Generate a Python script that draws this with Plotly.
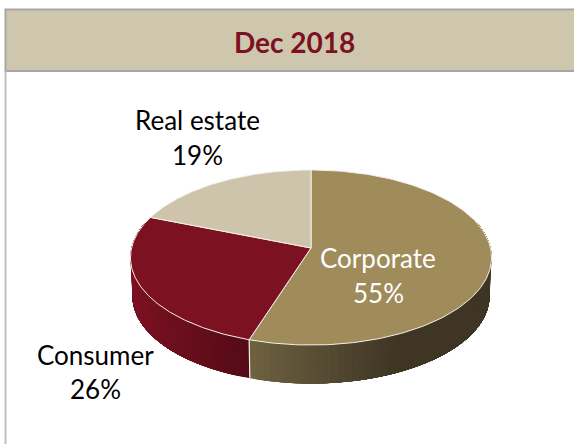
import numpy as np
import plotly.graph_objects as go

title = "Dec 2018"
categories = ["Corporate", "Consumer", "Real estate"]
values = [55, 26, 19]
top_colors = ["#A08C5B", "#7C1122", "#CEC4AB"]
# side shading at the left and right end of each visible wall
side_left = {"Corporate": (112, 99, 66), "Consumer": (124, 17, 34)}
side_right = {"Corporate": (62, 53, 36), "Consumer": (84, 11, 22)}
side_span = {"Corporate": (250, 400), "Consumer": (131, 250)}
label_xy = {"Corporate": (378, 258, 293), "Consumer": (95, 355, 389), "Real estate": (197, 120, 155)}
label_color = {"Corporate": "white", "Consumer": "black", "Real estate": "black"}

W, H = 574, 444
CX, CY = 311, 248
RX, RY, K = 179.5, 86.5, 0.1086
DEPTH = 38.5
FONT = "Lato"


def project(theta, rx=RX, ry=RY, dy=0.0):
    w = 1 + K * np.cos(theta)
    return CX + rx * np.sin(theta) / w, CY + dy - ry * np.cos(theta) / w


fig = go.Figure()
fractions = np.cumsum([0] + values) / sum(values) * 2 * np.pi

# side wall: shaded bands painted over one another, each reaching to the wall's far end
for i, name in enumerate(categories):
    if name not in side_left:
        continue
    a0, a1 = max(fractions[i], np.radians(70)), min(fractions[i + 1], np.radians(300))
    x0, x1 = side_span[name]
    starts = np.linspace(a0, a1, 61)[:-1]
    if name == "Corporate":
        starts = starts[::-1]  # x falls as the angle grows, so paint right to left
    for t0 in starts:
        ts = np.linspace(t0, a1, 40) if name == "Consumer" else np.linspace(a0, t0 + (a1 - a0) / 60, 40)
        xt, yt = project(ts)
        xb, yb = project(ts[::-1], RX - 2, RY, DEPTH)
        edge = project(np.array([t0]))[0][0]
        f = float(np.clip((edge - x0) / (x1 - x0), 0, 1))
        c = [round(l + (r - l) * f) for l, r in zip(side_left[name], side_right[name])]
        col = f"rgb({c[0]},{c[1]},{c[2]})"
        fig.add_trace(go.Scatter(
            x=np.r_[xt, xb, xt[0]], y=np.r_[yt, yb, yt[0]], mode="lines",
            fill="toself", fillcolor=col, line=dict(width=0),
            hoverinfo="skip", showlegend=False))

# white seam between the two visible walls
seam = fractions[1]
xs, ys = project(np.array([seam]))
xe, ye = project(np.array([seam]), RX - 2, RY, DEPTH)
fig.add_trace(go.Scatter(x=[xs[0], xe[0]], y=[ys[0], ye[0]], mode="lines",
                         line=dict(color="#F2EFE6", width=1.2),
                         hoverinfo="skip", showlegend=False))

# top face
for i, name in enumerate(categories):
    ts = np.linspace(fractions[i], fractions[i + 1], 160)
    x, y = project(ts)
    fig.add_trace(go.Scatter(
        x=np.r_[CX, x, CX], y=np.r_[CY, y, CY], mode="lines", fill="toself",
        fillcolor=top_colors[i], line=dict(color="#F4F1E8", width=1),
        name=name, hoverinfo="skip", showlegend=False))

annotations = [dict(x=294, y=41.5, text=f"<b>{title}</b>", showarrow=False,
                    font=dict(family=FONT, size=28, color="#7C1122"),
                    xanchor="center", yanchor="middle")]
for name, v in zip(categories, values):
    lx, y1, y2 = label_xy[name]
    for text, ly in ((name, y1), (f"{v}%", y2)):
        annotations.append(dict(x=lx, y=ly, text=text, showarrow=False,
                                font=dict(family=FONT, size=26, color=label_color[name]),
                                xanchor="center", yanchor="middle"))

shapes = [
    dict(type="rect", x0=5.5, x1=W + 5, y0=9.5, y1=71, fillcolor="#CFC6AE",
         line=dict(color="#A6A6A6", width=2), layer="below"),
    dict(type="line", x0=5.5, x1=5.5, y0=71, y1=H, line=dict(color="#BFBFBF", width=2), layer="below"),
]

fig.update_layout(
    width=W, height=H, margin=dict(l=0, r=0, t=0, b=0),
    paper_bgcolor="white", plot_bgcolor="white", showlegend=False,
    xaxis=dict(range=[0, W], visible=False, fixedrange=True),
    yaxis=dict(range=[H, 0], visible=False, fixedrange=True),
    annotations=annotations, shapes=shapes,
)
fig.write_html("out.html", config=dict(displayModeBar=False),
               post_script="document.body.style.margin='0';document.body.style.overflow='hidden';")
